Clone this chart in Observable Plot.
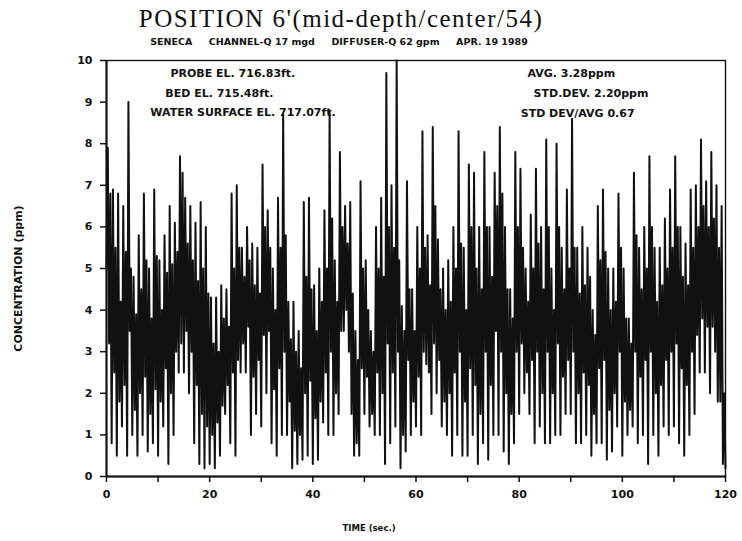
<!DOCTYPE html>
<html><head><meta charset="utf-8">
<script src="https://cdn.jsdelivr.net/npm/d3@7"></script>
<script src="https://cdn.jsdelivr.net/npm/@observablehq/plot@0.6"></script>
<style>
body{margin:0;background:#fff;}
#wrap{position:relative;width:742px;height:541px;overflow:hidden;}
#title{position:absolute;left:0;width:682px;top:6px;text-align:center;font-family:"Liberation Serif",serif;font-size:25px;letter-spacing:1.5px;line-height:1;color:#111;}
#sub{position:absolute;left:0;width:678px;top:37px;text-align:center;font-family:"DejaVu Sans",sans-serif;font-weight:bold;font-size:9.5px;line-height:1;white-space:pre;color:#111;}
#chart{position:absolute;left:0;top:0;}
</style></head><body>
<div id="wrap"><div id="chart"></div><div id="title"></div><div id="sub"></div></div>
<script>
const titleText = "POSITION 6'(mid-depth/center/54)";
const subtitleText = "SENECA     CHANNEL-Q 17 mgd     DIFFUSER-Q 62 gpm     APR. 19 1989";
const xLabel = "TIME (sec.)";
const yLabel = "CONCENTRATION (ppm)";
const leftNotes = ["PROBE EL. 716.83ft.", "BED EL. 715.48ft.", "WATER SURFACE EL. 717.07ft."];
const rightNotes = ["AVG. 3.28ppm", "STD.DEV. 2.20ppm", "STD DEV/AVG 0.67"];
const xTicks = [0, 10, 20, 30, 40, 50, 60, 70, 80, 90, 100, 110, 120];
const xTickLabels = [0, 20, 40, 60, 80, 100, 120];
const yTicks = [0, 1, 2, 3, 4, 5, 6, 7, 8, 9, 10];
const sampleStep = 0.25; // seconds between readings
const concentration = [
5.0,7.9,3.2,6.8, 0.8,6.9,2.5,5.5, 0.5,6.8,1.8,4.2, 1.2,6.5,2.2,5.4, 0.5,9.0,3.5,5.0,
1.0,4.8,1.6,3.9, 0.5,5.8,2.0,4.5, 1.0,6.8,2.4,5.2, 0.6,5.0,1.5,3.8, 0.8,6.9,2.1,5.3,
0.5,5.2,1.8,4.0, 1.2,5.8,2.6,4.9, 0.3,6.5,2.0,5.1, 1.0,6.1,3.0,5.4, 2.5,7.7,3.2,7.3,
2.5,6.7,3.5,5.6, 2.0,6.5,3.0,5.2, 0.8,6.1,2.2,4.7, 0.3,6.6,1.5,5.0, 0.2,6.0,1.2,4.4,
0.3,4.3,1.0,3.2, 0.2,4.3,1.3,3.0, 0.5,4.6,1.7,3.8, 1.5,4.5,2.2,3.6, 0.8,6.8,2.5,5.0,
0.5,7.0,2.8,5.5, 2.5,5.5,3.2,4.8, 2.5,6.0,3.6,5.2, 1.0,5.6,2.4,4.6, 1.5,5.5,2.8,4.4,
1.2,7.5,3.4,6.0, 2.0,6.4,3.5,5.5, 0.8,5.0,2.1,4.0, 0.5,6.7,2.6,5.5, 1.0,8.7,3.0,5.8,
1.0,4.2,1.8,3.3, 0.2,4.2,1.1,3.0, 0.3,3.5,1.0,2.6, 0.4,6.6,2.0,4.8, 0.5,6.7,2.3,4.5,
0.3,4.6,1.4,3.5, 0.4,5.0,1.8,4.2, 1.3,6.4,2.5,5.0, 1.0,8.8,3.0,6.2, 1.0,5.2,2.0,4.2,
1.5,7.8,3.5,6.0, 3.5,6.5,4.0,5.6, 3.0,6.6,1.5,4.4, 0.5,3.5,0.8,2.8, 0.5,7.1,2.6,5.0,
1.5,5.2,2.4,4.0, 1.2,3.5,1.5,3.0, 1.0,6.0,2.5,5.0, 1.0,6.7,2.0,4.8, 0.3,9.7,3.2,6.0,
0.8,7.0,2.5,5.5, 1.2,10.0,3.0,5.2, 0.2,4.1,1.0,3.5, 0.6,7.1,2.8,4.5, 1.0,4.5,1.8,3.5,
1.2,6.0,2.4,5.0, 1.0,8.3,3.0,5.5, 2.7,5.8,2.5,4.6, 1.5,8.4,3.2,6.5, 2.0,5.7,2.8,4.5,
1.2,5.0,1.8,4.0, 1.0,5.2,2.0,4.2, 0.5,6.0,2.5,5.0, 1.0,8.3,3.0,5.6, 0.5,5.5,1.8,4.0,
0.5,7.5,2.6,6.0, 1.0,7.3,2.2,5.0, 0.3,6.0,1.5,4.5, 0.8,7.8,3.0,6.0, 0.4,6.0,2.2,4.8,
1.0,7.3,3.5,6.5, 1.0,8.4,3.0,6.8, 0.6,6.0,2.0,4.5, 0.3,4.5,1.5,3.8, 0.8,7.8,3.0,6.0,
1.5,7.4,3.2,5.5, 2.0,5.0,2.5,4.2, 1.5,6.3,2.8,5.0, 0.8,7.4,3.0,5.6, 1.2,6.0,2.0,4.5,
0.8,8.1,3.0,6.0, 0.8,5.0,2.0,4.0, 1.0,8.0,3.2,6.0, 1.0,5.5,2.4,4.5, 1.5,6.9,2.8,5.0,
1.5,8.6,3.0,5.5, 0.8,5.5,2.0,4.4, 0.8,6.0,2.5,4.6, 1.0,5.5,2.2,4.8, 0.5,4.0,1.5,3.4,
0.8,6.5,2.6,5.2, 0.8,6.9,2.8,5.4, 0.4,5.0,1.6,4.0, 0.6,5.0,2.0,4.2, 1.2,6.8,3.0,5.5,
0.5,5.0,1.8,3.8, 1.0,3.8,1.6,3.2, 1.2,7.3,3.0,5.8, 0.8,5.5,2.4,4.5, 1.0,6.0,2.8,5.0,
0.3,7.7,3.0,6.0, 1.0,5.5,2.0,4.2, 0.5,5.5,2.2,4.6, 1.2,6.2,2.8,5.0, 1.0,6.9,3.0,5.5,
1.2,7.7,3.2,6.0, 0.8,6.0,2.6,4.8, 0.5,5.6,2.2,4.6, 1.0,6.9,3.0,5.5, 1.5,7.0,3.4,6.0,
2.5,8.1,3.8,6.5, 2.5,7.1,3.6,6.0, 2.0,7.8,3.6,6.2, 3.0,7.0,1.8,5.5, 1.8,6.5,0.3,2.0,
0.2
];

document.getElementById("title").textContent = titleText;
document.getElementById("sub").textContent = subtitleText;

const series = concentration.map((v, i) => ({t: i * sampleStep, v}));
const leftRows = leftNotes.map((s, i) => ({s, row: i}));
const rightRows = rightNotes.map((s, i) => ({s, row: i}));
// anchor placement of note lines (time, ppm)
const leftPlace = [[12.4, 9.69], [11.4, 9.21], [8.5, 8.75]];
const rightPlace = [[81.6, 9.69], [82.8, 9.21], [80.3, 8.73]];

const font = "DejaVu Sans, sans-serif";
const chart = Plot.plot({
  width: 742, height: 541,
  marginTop: 60, marginBottom: 65, marginLeft: 106, marginRight: 17,
  style: {fontFamily: font, fontWeight: "bold", fontSize: "11px", color: "#111", background: "#fff"},
  x: {domain: [0, 120]},
  y: {domain: [0, 10]},
  marks: [
    Plot.line(series, {x: "t", y: "v", stroke: "#111", strokeWidth: 2}),
    Plot.frame({stroke: "#111", strokeWidth: 1.4}),
    Plot.ruleY([0], {stroke: "#111", strokeWidth: 2}),
    Plot.ruleX([0], {stroke: "#111", strokeWidth: 2}),
    Plot.axisX({ticks: xTicks, tickSize: 6, tickPadding: 8, strokeWidth: 1.5,
      tickFormat: d => xTickLabels.includes(d) ? String(d) : "", label: null, fontSize: 11}),
    Plot.axisY({ticks: yTicks, tickSize: 6, tickPadding: 8, strokeWidth: 1.5, label: null, fontSize: 11}),
    Plot.text([xLabel], {frameAnchor: "bottom", textAnchor: "middle", dx: -47, dy: 54, fontSize: 8.5, fontWeight: "bold", fill: "#111"}),
    Plot.text([yLabel], {frameAnchor: "left", textAnchor: "middle", rotate: -90, dx: -88, dy: 10, fontSize: 11, fontWeight: "bold", fill: "#111"}),
    Plot.text(leftRows, {x: d => leftPlace[d.row][0], y: d => leftPlace[d.row][1], text: "s",
      textAnchor: "start", fontSize: 11, fontWeight: "bold", fill: "#111", style: "letter-spacing:0.7px"}),
    Plot.text(rightRows, {x: d => rightPlace[d.row][0], y: d => rightPlace[d.row][1], text: "s",
      textAnchor: "start", fontSize: 11, fontWeight: "bold", fill: "#111"})
  ]
});
document.getElementById("chart").appendChild(chart);
</script>
</body></html>
